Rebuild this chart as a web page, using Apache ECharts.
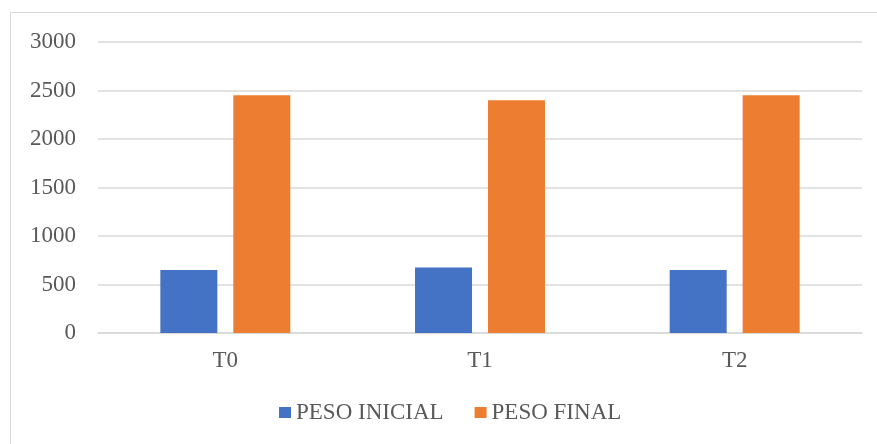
<!DOCTYPE html>
<html><head><meta charset="utf-8">
<script src="https://cdn.jsdelivr.net/npm/echarts@6/dist/echarts.min.js"></script>
<style>html,body{margin:0;padding:0;background:#fff}#c{width:877px;height:444px}</style>
</head><body><div id="c"></div>
<script>
const categories = ['T0', 'T1', 'T2'];
const pesoInicial = [650, 675, 650];
const pesoFinal = [2450, 2400, 2450];
const seriesNames = ['PESO INICIAL', 'PESO FINAL'];
const font = '"Liberation Serif", "Times New Roman", serif';
const chart = echarts.init(document.getElementById('c'));
chart.setOption({
  animation: false,
  backgroundColor: '#fff',
  graphic: [{type: 'rect', shape: {x: 10.5, y: 12.5, width: 880, height: 450}, style: {fill: 'none', stroke: '#d9d9d9', lineWidth: 1}, silent: true}],
  grid: {left: 98, right: 15, top: 42, bottom: 111},
  legend: {
    top: 401, left: 279, padding: 0, itemWidth: 12, itemHeight: 11, itemGap: 31,
    icon: 'rect',
    textStyle: {fontFamily: font, fontSize: 23, color: '#595959'},
    data: seriesNames
  },
  xAxis: {
    type: 'category', data: categories,
    axisLine: {lineStyle: {color: '#d9d9d9', width: 1.5}},
    axisTick: {show: false},
    axisLabel: {fontFamily: font, fontSize: 23, color: '#595959', margin: 16}
  },
  yAxis: {
    type: 'value', min: 0, max: 3000, interval: 500,
    axisLine: {show: false}, axisTick: {show: false},
    splitLine: {lineStyle: {color: '#d9d9d9', width: 1.5}},
    axisLabel: {fontFamily: font, fontSize: 23, color: '#595959', margin: 22, formatter: v => String(v)}
  },
  series: [
    {name: seriesNames[0], type: 'bar', data: pesoInicial, barWidth: 57, barGap: '28%', itemStyle: {color: '#4472c4'}},
    {name: seriesNames[1], type: 'bar', data: pesoFinal, barWidth: 57, barGap: '28%', itemStyle: {color: '#ed7d31'}}
  ]
});
</script></body></html>
